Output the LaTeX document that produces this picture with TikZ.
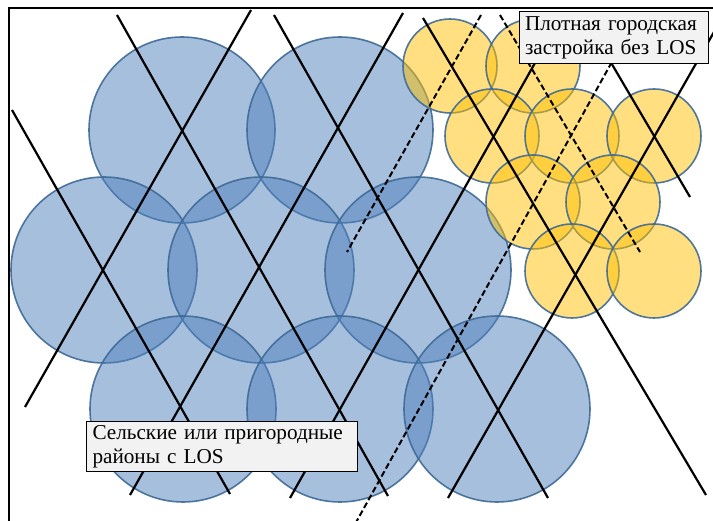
\documentclass[tikz,border=0pt]{standalone}
\usepackage{fontspec}
\setmainfont{Liberation Serif}
\definecolor{bluefill}{HTML}{4F81BD}
\definecolor{yellowfill}{HTML}{FFC000}
\definecolor{rim}{HTML}{3E6A96}
\definecolor{boxfill}{HTML}{F2F2F2}
\tikzset{
  bluecell/.style={fill=bluefill, fill opacity=0.5, draw=rim, draw opacity=0.9, line width=1.6pt},
  yellowcell/.style={fill=yellowfill, fill opacity=0.5, draw=rim, draw opacity=0.9, line width=1.6pt},
  beam/.style={draw=black, line width=2.2pt},
  dbeam/.style={draw=black, line width=2pt, dash pattern=on 6pt off 3pt},
  label/.style={draw=black, line width=1pt, fill=boxfill, anchor=north west, align=left,
    font=\fontsize{21.2}{23.8}\selectfont, inner ysep=0pt}
}
\begin{document}
\begin{tikzpicture}[x=1pt,y=-1pt]
\useasboundingbox (0,0) rectangle (713,521);
\clip (0,0) rectangle (713,521);
\fill[white] (0,0) rectangle (713,521);
% blue cells
\foreach \cx/\cy in {182/130,340/130,104/270,261/270,418/270,183/409,340/409,497/409}
  \path[bluecell] (\cx,\cy) circle[radius=93];
% yellow cells
\foreach \cx/\cy in {450/66,533/66,492/136,572/136,654/136,533/202,613/202,572/271,654/271}
  \path[yellowcell] (\cx,\cy) circle[radius=47];
% solid beams (down-right)
\coordinate (a1) at (12,110);  \coordinate (b1) at (230,494);
\coordinate (a2) at (117,15);  \coordinate (b2) at (388,496);
\coordinate (a3) at (274,15);  \coordinate (b3) at (548,498);
\coordinate (a4) at (423,18);  \coordinate (b4) at (706,495);
\coordinate (a5) at (583,15);  \coordinate (b5) at (690,197);
\draw[beam] (a1) -- (b1);
\draw[beam] (a2) -- (b2);
\draw[beam] (a3) -- (b3);
\draw[beam] (a4) -- (b4);
\draw[beam] (a5) -- (b5);
% solid beams (up-right)
\coordinate (c7) at (251,10);  \coordinate (d7) at (25,407);
\coordinate (c8) at (403,13);  \coordinate (d8) at (130,495);
\coordinate (c9) at (562,15);  \coordinate (d9) at (290,498);
\coordinate (c10) at (722,18); \coordinate (d10) at (448,498);
\draw[beam] (c7) -- (d7);
\draw[beam] (c8) -- (d8);
\draw[beam] (c9) -- (d9);
\draw[beam] (c10) -- (d10);
% dashed beams
\coordinate (e6) at (500,15);  \coordinate (f6) at (640,252);
\coordinate (e11) at (481,15); \coordinate (f11) at (347,252);
\coordinate (e12) at (638,15); \coordinate (f12) at (354,526);
\draw[dbeam] (e6) -- (f6);
\draw[dbeam] (e11) -- (f11);
\draw[dbeam] (e12) -- (f12);
% labels
\node[label, text width=178pt, inner xsep=5.5pt, minimum height=52pt] (dense) at (519,11)
  {Плотная городская\\застройка без LOS};
\node[label, text width=259pt, inner xsep=6pt, minimum height=50pt] (rural) at (86,421)
  {Сельские или пригородные\\районы с LOS};
% frame
\draw[line width=2pt] (9,8) rectangle (760,560);
\end{tikzpicture}
\end{document}
